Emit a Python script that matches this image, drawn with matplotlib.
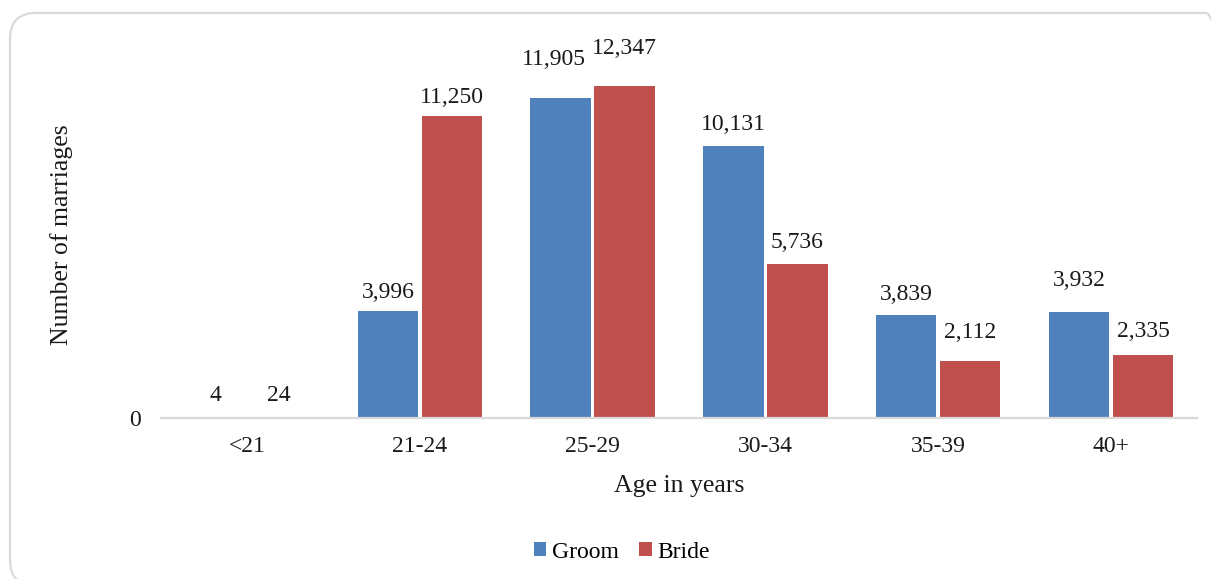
import matplotlib
matplotlib.use("Agg")
import matplotlib.pyplot as plt
from matplotlib.patches import FancyBboxPatch
from matplotlib.transforms import IdentityTransform
import numpy as np

# Marriages by age group
age_groups = ["<21", "21-24", "25-29", "30-34", "35-39", "40+"]
groom = [4, 3996, 11905, 10131, 3839, 3932]
bride = [24, 11250, 12347, 5736, 2112, 2335]

GROOM_COLOR = "#4F81BD"
BRIDE_COLOR = "#C0504D"

plt.rcParams["font.family"] = ["Liberation Serif", "DejaVu Serif"]

W, H, DPI = 1211, 579, 100
fig = plt.figure(figsize=(W / DPI, H / DPI), dpi=DPI)

# rounded outer frame (drawn in pixel coordinates)
frame = FancyBboxPatch((10, -7), 1222, 566 + 7,
                       boxstyle="round,pad=0,rounding_size=26",
                       transform=IdentityTransform(),
                       facecolor="none", edgecolor="#d9d9d9", linewidth=1.6,
                       zorder=-1)
fig.patches.append(frame)

ax = fig.add_axes([160.6 / W, 1 - 418 / H, (1197.4 - 160.6) / W, (418 - 42) / H])
ax.set_facecolor("none")

x = np.arange(len(age_groups))
width = 0.35
offset = 0.185

bars_g = ax.bar(x - offset, groom, width, color=GROOM_COLOR, label="Groom", zorder=2)
bars_b = ax.bar(x + offset, bride, width, color=BRIDE_COLOR, label="Bride", zorder=2)

ax.set_xlim(-0.5, len(age_groups) - 0.5)
ax.set_ylim(0, 14000)

# value labels: (dx, dy) offsets in points from each bar's top centre
groom_off = [(0, 12), (0, 9), (-5, 24), (0, 11.5), (0, 11), (0, 19)]
bride_off = [(0, 12), (0, 9), (0, 23), (0, 11.5), (0, 16.5), (0, 13)]
for bars, vals, offs in ((bars_g, groom, groom_off), (bars_b, bride, bride_off)):
    for b, v, (dx, dy) in zip(bars, vals, offs):
        ax.annotate(f"{v:,}", (b.get_x() + b.get_width() / 2, v),
                    xytext=(dx, dy), textcoords="offset points",
                    ha="center", va="baseline", fontsize=17, color="#1a1a1a")

for s in ("top", "right", "left"):
    ax.spines[s].set_visible(False)
ax.spines["bottom"].set_color("#d9d9d9")
ax.spines["bottom"].set_linewidth(1.6)

ax.set_xticks(x)
ax.set_xticklabels(age_groups, fontsize=17, color="#1a1a1a")
ax.tick_params(axis="x", length=0, pad=13)
ax.set_yticks([0])
ax.set_yticklabels(["0"], fontsize=17, color="#1a1a1a")
ax.tick_params(axis="y", length=0, pad=14)

ax.set_xlabel("Age in years", fontsize=18.5, color="#1a1a1a", labelpad=13)
fig.text(62 / W, 1 - 235 / H, "Number of marriages", rotation=90,
         ha="center", va="center", fontsize=18.5, color="#1a1a1a")

fig.legend(loc="center", bbox_to_anchor=(622 / W, 1 - 552 / H), ncol=2,
           frameon=False, fontsize=17, handlelength=0.52, handleheight=0.52,
           handletextpad=0.25, columnspacing=0.85)

fig.savefig("out.png", dpi=DPI)
